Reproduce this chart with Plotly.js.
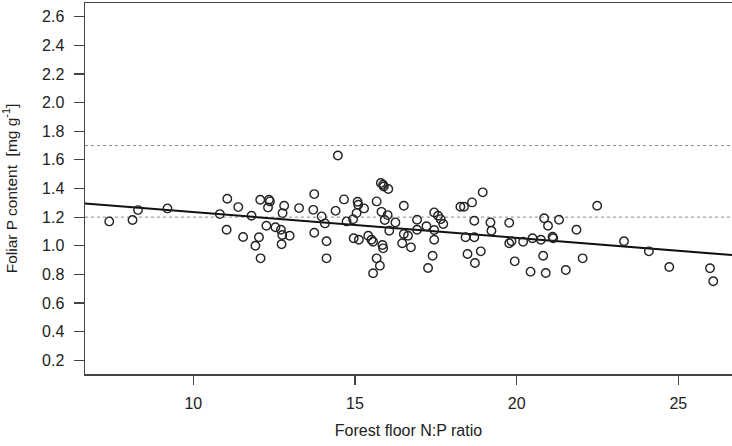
<!DOCTYPE html>
<html>
<head>
<meta charset="utf-8">
<script src="https://cdn.plot.ly/plotly-3.0.1.min.js"></script>
<style>html,body{margin:0;padding:0;background:#fff;}#chart{width:732px;height:446px;}</style>
</head>
<body>
<div id="chart"></div>
<script>
// Forest floor N:P ratio (x) and foliar P content (y)
const npRatio = [7.40, 8.12, 8.29, 9.20, 10.82, 11.05, 11.39, 11.80, 12.07, 11.03,
  11.54, 11.92, 12.03, 12.08, 14.47, 12.34, 12.37, 12.31, 12.81, 12.76,
  12.26, 12.54, 12.71, 12.75, 12.98, 12.73, 13.27, 13.74, 13.71, 13.97,
  14.07, 14.40, 14.66, 14.74, 13.74, 14.12, 14.12, 14.94, 15.08, 15.10,
  15.05, 15.28, 14.96, 15.12, 15.41, 15.51, 15.56, 15.67, 15.80, 15.87,
  15.89, 16.03, 15.82, 16.01, 15.92, 16.06, 16.25, 15.85, 15.87, 15.67,
  15.77, 15.56, 16.51, 16.51, 16.64, 16.46, 16.73, 16.92, 16.92, 17.21,
  17.45, 17.57, 17.65, 17.73, 17.45, 17.45, 17.40, 17.26, 18.26, 18.37,
  18.62, 18.95, 18.69, 19.19, 19.22, 18.42, 18.69, 18.48, 18.89, 18.71,
  19.77, 19.77, 19.84, 19.94, 20.20, 20.49, 20.75, 20.43, 20.85, 20.97,
  20.82, 20.90, 21.11, 21.13, 21.31, 21.52, 21.85, 22.04, 22.49, 23.32,
  24.09, 24.72, 25.98, 26.08];
const foliarP = [1.170, 1.180, 1.249, 1.261, 1.221, 1.328, 1.270, 1.210, 1.321, 1.112,
  1.061, 1.000, 1.059, 0.912, 1.631, 1.321, 1.310, 1.268, 1.279, 1.228,
  1.140, 1.129, 1.112, 1.075, 1.070, 1.010, 1.263, 1.361, 1.251, 1.205,
  1.156, 1.244, 1.324, 1.170, 1.091, 1.031, 0.912, 1.186, 1.307, 1.286,
  1.228, 1.261, 1.052, 1.042, 1.070, 1.042, 1.028, 1.310, 1.438, 1.426,
  1.414, 1.396, 1.237, 1.214, 1.180, 1.105, 1.163, 1.005, 0.982, 0.912,
  0.861, 0.808, 1.279, 1.082, 1.070, 1.017, 0.989, 1.182, 1.112, 1.136,
  1.233, 1.210, 1.186, 1.152, 1.110, 1.042, 0.930, 0.845, 1.272, 1.272,
  1.303, 1.373, 1.175, 1.163, 1.105, 1.059, 1.059, 0.942, 0.961, 0.880,
  1.160, 1.017, 1.031, 0.891, 1.028, 1.052, 1.042, 0.819, 1.192, 1.140,
  0.930, 0.810, 1.063, 1.052, 1.182, 0.831, 1.112, 0.912, 1.279, 1.031,
  0.961, 0.852, 0.843, 0.752];

// regression line (intercept, slope)
const fitIntercept = 1.416;
const fitSlope = -0.01805;

// reference (dotted) levels
const refLevels = [1.2, 1.7];

// tick values
const xTicks = [10, 15, 20, 25];
const yTicks = [0.2, 0.4, 0.6, 0.8, 1.0, 1.2, 1.4, 1.6, 1.8, 2.0, 2.2, 2.4, 2.6];

const xRange = [6.65, 26.66];
const yRange = [0.104, 2.696];

const fitX = [xRange[0], xRange[1]];
const fitY = fitX.map(v => fitIntercept + fitSlope * v);

const font = {family: 'Liberation Sans, Arial, sans-serif', size: 16, color: '#222'};
const yTitleFont = {family: 'Liberation Sans, Arial, sans-serif', size: 15.5, color: '#222'};

const traces = [
  {
    type: 'scatter', mode: 'lines', x: fitX, y: fitY,
    line: {color: '#111', width: 2}, hoverinfo: 'skip', showlegend: false
  },
  {
    type: 'scatter', mode: 'markers', x: npRatio, y: foliarP,
    marker: {symbol: 'circle-open', size: 8.5, color: '#222', line: {width: 1.4, color: '#222'}},
    showlegend: false, cliponaxis: false
  }
];

const shapes = refLevels.map(v => ({
  type: 'line', xref: 'paper', x0: 0, x1: 1, yref: 'y', y0: v, y1: v,
  line: {color: '#888', width: 1, dash: 'dot'}, layer: 'below'
}));

const layout = {
  width: 732, height: 446,
  margin: {l: 85, r: 0, t: 3, b: 72},
  paper_bgcolor: '#fff', plot_bgcolor: '#fff',
  font: font,
  showlegend: false,
  shapes: shapes,
  xaxis: {
    range: xRange, tickvals: xTicks, ticktext: xTicks.map(String),
    showgrid: false, zeroline: false,
    showline: true, linecolor: '#444', linewidth: 1.5, mirror: true,
    ticks: 'outside', ticklen: 9, tickwidth: 1.2, tickcolor: '#444',
    ticklabelstandoff: 5,
    tickfont: font,
    title: {text: 'Forest floor N:P ratio', font: font, standoff: 14}
  },
  yaxis: {
    range: yRange, tickvals: yTicks, ticktext: yTicks.map(v => v.toFixed(1)),
    showgrid: false, zeroline: false,
    showline: true, linecolor: '#444', linewidth: 1.5, mirror: false,
    ticks: 'outside', ticklen: 10, tickwidth: 1.2, tickcolor: '#444',
    ticklabelstandoff: 6,
    tickfont: font,
    title: {text: 'Foliar P content  [mg g<sup>-1</sup>]', font: yTitleFont, standoff: 22}
  }
};

Plotly.newPlot('chart', traces, layout, {displayModeBar: false, staticPlot: true});
</script>
</body>
</html>
